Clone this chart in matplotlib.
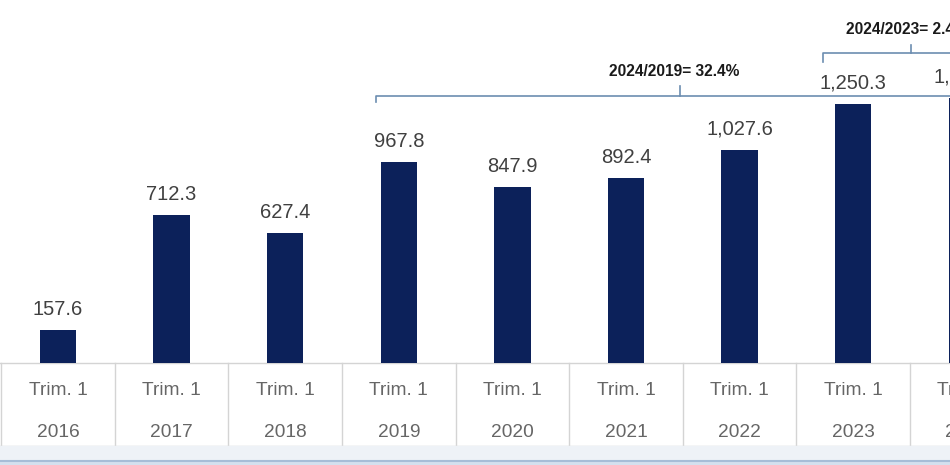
import matplotlib.pyplot as plt
from matplotlib.lines import Line2D
from matplotlib.patches import Rectangle
from matplotlib.transforms import blended_transform_factory

# data (last bar is cut at the right edge)
years = ['2016', '2017', '2018', '2019', '2020', '2021', '2022', '2023', '2024']
quarter = 'Trim. 1'
values = [157.6, 712.3, 627.4, 967.8, 847.9, 892.4, 1027.6, 1250.3, 1281.0]
ratio_labels = ['2024/2019= 32.4%', '2024/2023= 2.4%']

W, H = 950, 465
BASE = 363          # pixel row of the bar baseline
STEP = 113.6        # pixels per category
X0 = 58             # pixel centre of first category
PX_PER_UNIT = 0.2072

plt.rcParams['font.family'] = ['Liberation Sans', 'DejaVu Sans']
fig = plt.figure(figsize=(W / 100, H / 100), dpi=100)


def fxy(px, py):
    return px / W, 1 - py / H


ax = fig.add_axes([0, (H - BASE) / H, 1, BASE / H])
x = list(range(len(years)))
ax.bar(x, values, width=0.32, color='#0c215a', zorder=3)
ax.set_xlim(-X0 / STEP, (W - X0) / STEP)
ax.set_ylim(0, BASE / PX_PER_UNIT)
ax.axis('off')

for xi, v in zip(x, values):
    ax.annotate(f'{v:,.1f}', (xi, v), xytext=(0, 11), textcoords='offset points',
                ha='center', va='baseline', fontsize=14.5, color='#404040',
                annotation_clip=False, clip_on=False)

# table under the bars
tr = blended_transform_factory(ax.transData, ax.transAxes)
row_bottom = -(446 - BASE) / BASE
grid_c = '#d4d4d4'
ax.plot([-1, 9], [0, 0], transform=tr, color=grid_c, lw=1, clip_on=False)
ax.plot([-1, 9], [row_bottom, row_bottom], transform=tr, color=grid_c, lw=1, clip_on=False)
for i in range(len(years) + 1):
    ax.plot([i - 0.5, i - 0.5], [0, row_bottom], transform=tr, color=grid_c, lw=1, clip_on=False)
for i, yr in enumerate(years):
    ax.text(i, -(390 - BASE) / BASE, quarter, transform=tr, ha='center', va='center',
            fontsize=13.8, color='#666666', clip_on=False)
    ax.text(i, -(432 - BASE) / BASE, yr, transform=tr, ha='center', va='center',
            fontsize=13.8, color='#666666', clip_on=False)

# bottom strip
fig.patches.append(Rectangle(fxy(0, 465), 1, 19 / H, transform=fig.transFigure,
                             color='#eef2f7', zorder=0))
fig.patches.append(Rectangle(fxy(0, 465), 1, 4 / H, transform=fig.transFigure,
                             color='#d3e0ee', zorder=0))
fig.lines.append(Line2D([0, 1], [fxy(0, 460.5)[1]] * 2, transform=fig.transFigure,
                        color='#a6bdd7', lw=1.5))

# brackets with the growth ratios
br_c = '#6c8db0'
brackets = [(376, 984, 96, 6, 10, 72, 674), (823, 999, 53, 9, 8, 30, 907)]
for (x0, x1, y, drop, rise, ty, tx), lab in zip(brackets, ratio_labels):
    xc = (x0 + x1) / 2
    pts = [fxy(x0, y + drop), fxy(x0, y), fxy(x1, y), fxy(x1, y + drop)]
    fig.lines.append(Line2D([p[0] for p in pts], [p[1] for p in pts],
                            transform=fig.transFigure, color=br_c, lw=1.2))
    fig.lines.append(Line2D([fxy(xc, 0)[0]] * 2, [fxy(0, y)[1], fxy(0, y - rise)[1]],
                            transform=fig.transFigure, color=br_c, lw=1.2))
    fig.text(*fxy(tx, ty), lab, ha='center', va='center', fontsize=11.2,
             fontweight='bold', color='#1a1a1a')

fig.savefig('out.png', dpi=100)
